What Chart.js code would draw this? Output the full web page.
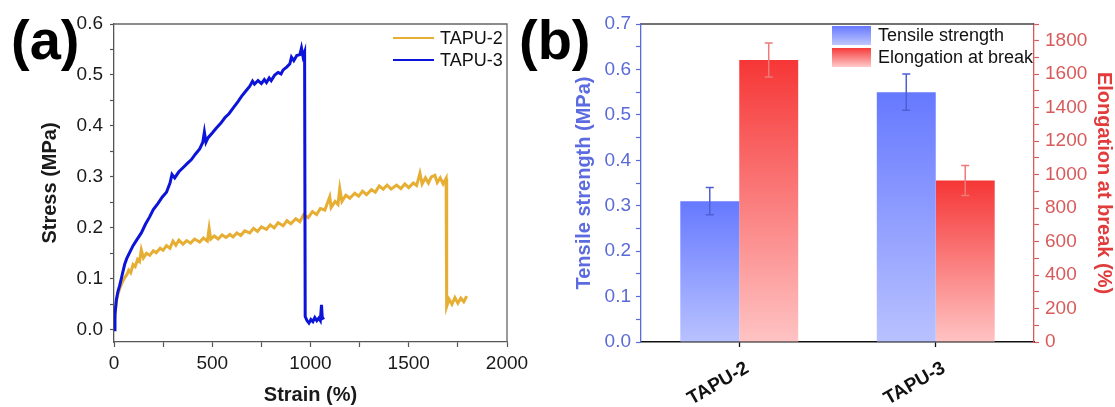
<!DOCTYPE html>
<html>
<head>
<meta charset="utf-8">
<script src="https://cdn.jsdelivr.net/npm/chart.js@4.4.1/dist/chart.umd.min.js"></script>
<style>
  body { margin: 0; background: #fff; width: 1115px; height: 407px; overflow: hidden; position: relative;
         font-family: 'Liberation Sans', Arial, sans-serif; }
  #wa { position: absolute; left: 0; top: 0; width: 540px; height: 407px; }
  #wb { position: absolute; left: 540px; top: 0; width: 575px; height: 407px; }
  .tag { position: absolute; top: 12px; font-weight: bold; font-size: 56px; line-height: 56px; color: #000; }
</style>
</head>
<body>
<div id="wa"><canvas id="ca"></canvas></div>
<div id="wb"><canvas id="cb"></canvas></div>
<div class="tag" style="left:11px">(a)</div>
<div class="tag" style="left:519px">(b)</div>
<script>
const FONT = "'Liberation Sans', Arial, sans-serif";

// (a) stress-strain curves
const curveNames = ['TAPU-2', 'TAPU-3'];
const curveColors = ['#E6AE32', '#0B14D8'];
const strain2 = [0, 6, 12, 20, 30, 42, 54, 65, 75, 85, 97, 108, 120, 130, 139, 150, 165, 182, 200, 215,
  235, 250, 267, 285, 300, 315, 330, 351, 370, 390, 410, 436, 455, 475, 484, 492, 510, 530, 550, 570,
  590, 606, 625, 645, 665, 691, 710, 730, 750, 776, 795, 815, 835, 861, 880, 900, 925, 946, 965, 988,
  1010, 1031, 1050, 1073, 1098, 1105, 1125, 1140, 1149, 1160, 1180, 1200, 1225, 1245, 1265, 1285, 1310, 1330, 1350, 1370,
  1390, 1410, 1438, 1460, 1480, 1500, 1523, 1540, 1557, 1568, 1585, 1600, 1615, 1633, 1645, 1660, 1675, 1690, 1693, 1705,
  1720, 1735, 1750, 1765, 1780, 1795];
const stress2 = [0, 0.035, 0.055, 0.07, 0.082, 0.093, 0.102, 0.108, 0.117, 0.112, 0.128, 0.124, 0.138, 0.134, 0.157, 0.141, 0.15, 0.146, 0.155, 0.151,
  0.16, 0.156, 0.165, 0.16, 0.174, 0.166, 0.176, 0.168, 0.175, 0.17, 0.178, 0.172, 0.18, 0.174, 0.199, 0.178, 0.184, 0.178, 0.186, 0.181,
  0.187, 0.182, 0.19, 0.185, 0.194, 0.19, 0.199, 0.193, 0.202, 0.197, 0.206, 0.2, 0.21, 0.204, 0.214, 0.208, 0.218, 0.212, 0.226, 0.22,
  0.232, 0.226, 0.238, 0.235, 0.261, 0.24, 0.252, 0.246, 0.277, 0.252, 0.264, 0.258, 0.268, 0.262, 0.272, 0.265, 0.275, 0.27, 0.282, 0.276,
  0.284, 0.276, 0.284, 0.277, 0.286, 0.279, 0.288, 0.283, 0.307, 0.286, 0.298, 0.288, 0.3, 0.303, 0.289, 0.298, 0.286, 0.297, 0.046, 0.06,
  0.05, 0.063, 0.052, 0.062, 0.055, 0.066];
const strain3 = [0, 5, 12, 20, 29, 40, 54, 65, 80, 97, 115, 139, 160, 182, 200, 224, 245, 267, 285, 295,
  309, 330, 351, 372, 394, 415, 436, 452, 460, 468, 479, 500, 521, 543, 564, 585, 606, 628, 649, 670,
  691, 705, 715, 733, 750, 765, 776, 790, 800, 818, 835, 850, 861, 880, 895, 903, 915, 930, 946, 954,
  962, 970, 973, 982, 992, 1002, 1012, 1022, 1032, 1042, 1050, 1056, 1060, 1070];
const stress3 = [0, 0.03, 0.059, 0.075, 0.087, 0.105, 0.128, 0.14, 0.152, 0.165, 0.176, 0.19, 0.207, 0.222, 0.236, 0.248, 0.26, 0.27, 0.288, 0.305,
  0.298, 0.31, 0.318, 0.326, 0.334, 0.345, 0.355, 0.368, 0.388, 0.368, 0.377, 0.386, 0.396, 0.405, 0.416, 0.424, 0.435, 0.446, 0.458, 0.468,
  0.478, 0.488, 0.482, 0.489, 0.483, 0.491, 0.485, 0.494, 0.489, 0.5, 0.505, 0.502, 0.51, 0.516, 0.522, 0.535, 0.528, 0.538, 0.54, 0.553,
  0.536, 0.545, 0.026, 0.018, 0.013, 0.02, 0.016, 0.024, 0.018, 0.023, 0.018, 0.049, 0.022, 0.024];

// (b) tensile strength / elongation bars
const samples = ['TAPU-2', 'TAPU-3'];
const barNames = ['Tensile strength', 'Elongation at break'];
const tensile = [0.31, 0.55];
const tensileErr = [0.03, 0.04];
const elongation = [1685, 965];
const elongationErr = [102, 90];

Chart.defaults.font.family = FONT;
Chart.defaults.animation = false;

function pts(xs, ys) {
  return xs.map((x, i) => ({ x: x, y: ys[i] }));
}

function onlyEvery(step, digits) {
  return function(v) {
    const r = v / step;
    if (Math.abs(r - Math.round(r)) > 1e-6) return '';
    return digits ? v.toFixed(digits) : String(Math.round(v));
  };
}

// box lines the library does not draw by itself
const frame = {
  id: 'frame',
  afterDraw(chart, args, opts) {
    const ctx = chart.ctx, a = chart.chartArea;
    ctx.save();
    ctx.lineWidth = 1.3;
    ctx.strokeStyle = opts.color;
    ctx.beginPath();
    ctx.moveTo(a.left, a.top);
    ctx.lineTo(a.right, a.top);
    if (opts.right) ctx.lineTo(a.right, a.bottom);
    ctx.stroke();
    ctx.restore();
  }
};

const lineLegend = {
  id: 'lineLegend',
  afterDraw(chart) {
    const ctx = chart.ctx, a = chart.chartArea;
    ctx.save();
    ctx.font = '18px ' + FONT;
    ctx.textBaseline = 'middle';
    chart.data.datasets.forEach((ds, i) => {
      const y = 38 + i * 22;
      ctx.strokeStyle = ds.borderColor;
      ctx.lineWidth = 2;
      ctx.beginPath();
      ctx.moveTo(a.right - 114, y);
      ctx.lineTo(a.right - 73, y);
      ctx.stroke();
      ctx.fillStyle = '#111';
      ctx.fillText(ds.label, a.right - 67, y + 1);
    });
    ctx.restore();
  }
};

new Chart(document.getElementById('ca'), {
  type: 'scatter',
  data: {
    datasets: [
      { label: curveNames[0], data: pts(strain2, stress2), showLine: true, borderColor: curveColors[0],
        borderWidth: 3, pointRadius: 0, order: 1 },
      { label: curveNames[1], data: pts(strain3, stress3), showLine: true, borderColor: curveColors[1],
        borderWidth: 3, pointRadius: 0, order: 0 }
    ]
  },
  options: {
    responsive: true,
    maintainAspectRatio: false,
    layout: { padding: { top: 24, right: 33, left: 0, bottom: 0 } },
    plugins: { legend: { display: false }, tooltip: { enabled: false }, frame: { color: '#666', right: true } },
    scales: {
      x: {
        type: 'linear', min: 0, max: 2000,
        grid: { drawOnChartArea: false, tickLength: 5, color: '#555', tickWidth: 1.2 },
        border: { color: '#555', width: 1.3 },
        ticks: { stepSize: 250, autoSkip: false, maxRotation: 0, color: '#1a1a1a', font: { size: 19 }, padding: 5,
                 callback: onlyEvery(500, 0) },
        title: { display: true, text: 'Strain (%)', color: '#1a1a1a', font: { size: 20, weight: 'bold', lineHeight: 1.15 },
                 padding: { top: 0, bottom: 0 } },
        afterFit(s) { s.height = 65; }
      },
      y: {
        min: -0.024, max: 0.6,
        grid: { drawOnChartArea: false, tickLength: 4, color: '#555', tickWidth: 1.2 },
        border: { color: '#555', width: 1.3 },
        ticks: { stepSize: 0.05, autoSkip: false, includeBounds: false, color: '#1a1a1a', font: { size: 19 }, padding: 7,
                 callback: onlyEvery(0.1, 1) },
        title: { display: true, text: 'Stress (MPa)', color: '#1a1a1a', font: { size: 20, weight: 'bold', lineHeight: 1.15 },
                 padding: { top: 39, bottom: 0 } },
        afterFit(s) { s.width = 114; }
      }
    }
  },
  plugins: [frame, lineLegend]
});

// (b)
const blueAxis = '#5B6AD6';
const redAxis = '#D85A5A';

function barFill(top, bottom) {
  return function(c) {
    const chart = c.chart;
    if (!chart.chartArea || c.type !== 'data') return top;
    const scale = chart.scales[c.dataset.yAxisID];
    const y0 = scale.getPixelForValue(c.raw);
    const y1 = scale.getPixelForValue(0);
    const g = chart.ctx.createLinearGradient(0, y0, 0, y1);
    g.addColorStop(0, top);
    g.addColorStop(1, bottom);
    return g;
  };
}

const errorBars = {
  id: 'errorBars',
  afterDatasetsDraw(chart) {
    const ctx = chart.ctx;
    chart.data.datasets.forEach((ds, i) => {
      const meta = chart.getDatasetMeta(i);
      const scale = chart.scales[ds.yAxisID];
      ctx.save();
      ctx.strokeStyle = ds.errColor;
      ctx.lineWidth = 1.5;
      meta.data.forEach((bar, j) => {
        const v = ds.data[j], e = ds.errors[j];
        const hi = scale.getPixelForValue(v + e), lo = scale.getPixelForValue(v - e);
        ctx.beginPath();
        ctx.moveTo(bar.x, hi); ctx.lineTo(bar.x, lo);
        ctx.moveTo(bar.x - 4, hi); ctx.lineTo(bar.x + 4, hi);
        ctx.moveTo(bar.x - 4, lo); ctx.lineTo(bar.x + 4, lo);
        ctx.stroke();
      });
      ctx.restore();
    });
  }
};

const boxLegend = {
  id: 'boxLegend',
  afterDraw(chart) {
    const ctx = chart.ctx, a = chart.chartArea;
    ctx.save();
    ctx.font = '18px ' + FONT;
    ctx.textBaseline = 'middle';
    chart.data.datasets.forEach((ds, i) => {
      const y0 = 26 + i * 22;
      const g = ctx.createLinearGradient(0, y0, 0, y0 + 19);
      g.addColorStop(0, ds.gradTop);
      g.addColorStop(1, ds.gradBottom);
      ctx.fillStyle = g;
      ctx.fillRect(a.right - 202, y0, 39, 19);
      ctx.fillStyle = '#111';
      ctx.fillText(ds.label, a.right - 156, y0 + 10);
    });
    ctx.restore();
  }
};

new Chart(document.getElementById('cb'), {
  type: 'bar',
  data: {
    labels: samples,
    datasets: [
      { label: barNames[0], data: tensile, yAxisID: 'yL', errors: tensileErr, errColor: '#4E5FD6',
        gradTop: '#6679FF', gradBottom: '#BFC7FF',
        backgroundColor: barFill('#6679FF', '#B9C2FF'), categoryPercentage: 0.6, barPercentage: 1.0 },
      { label: barNames[1], data: elongation, yAxisID: 'yR', errors: elongationErr, errColor: '#EE7A7A',
        gradTop: '#F63A3A', gradBottom: '#FFCACA',
        backgroundColor: barFill('#F63636', '#FFC3C3'), categoryPercentage: 0.6, barPercentage: 1.0 }
    ]
  },
  options: {
    responsive: true,
    maintainAspectRatio: false,
    layout: { padding: { top: 24, right: 0, left: 0, bottom: 0 } },
    plugins: { legend: { display: false }, tooltip: { enabled: false }, frame: { color: '#444', right: false } },
    scales: {
      x: {
        type: 'category', offset: true,
        grid: { offset: false, drawOnChartArea: false, tickLength: 5, color: '#111', tickWidth: 1.3 },
        border: { color: '#111', width: 1.5 },
        ticks: { color: '#111', font: { size: 19, weight: 'bold' }, minRotation: 30, maxRotation: 30, padding: 10,
                 labelOffset: 8 },
        afterFit(s) { s.height = 65; }
      },
      yL: {
        position: 'left', min: 0, max: 0.7,
        grid: { drawOnChartArea: false, tickLength: 5, color: blueAxis, tickWidth: 1.2 },
        border: { color: blueAxis, width: 1.3 },
        ticks: { stepSize: 0.05, autoSkip: false, includeBounds: false, color: blueAxis, font: { size: 19 }, padding: 5,
                 callback: onlyEvery(0.1, 1) },
        title: { display: true, text: 'Tensile strength (MPa)', color: '#5C6CE0',
                 font: { size: 20, weight: 'bold', lineHeight: 1.15 }, padding: { top: 33, bottom: 0 } },
        afterFit(s) { s.width = 101; }
      },
      yR: {
        position: 'right', min: 0, max: 1900,
        grid: { drawOnChartArea: false, tickLength: 5, color: redAxis, tickWidth: 1.2 },
        border: { color: redAxis, width: 1.3 },
        ticks: { stepSize: 100, autoSkip: false, includeBounds: false, color: redAxis, font: { size: 19 }, padding: 6,
                 callback: onlyEvery(200, 0) },
        title: { display: true, text: 'Elongation at break (%)', color: '#E23B3B',
                 font: { size: 20, weight: 'bold', lineHeight: 1.15 }, padding: { top: 0, bottom: 0 } },
        afterFit(s) { s.width = 81; }
      }
    }
  },
  plugins: [frame, errorBars, boxLegend]
});
</script>
</body>
</html>
